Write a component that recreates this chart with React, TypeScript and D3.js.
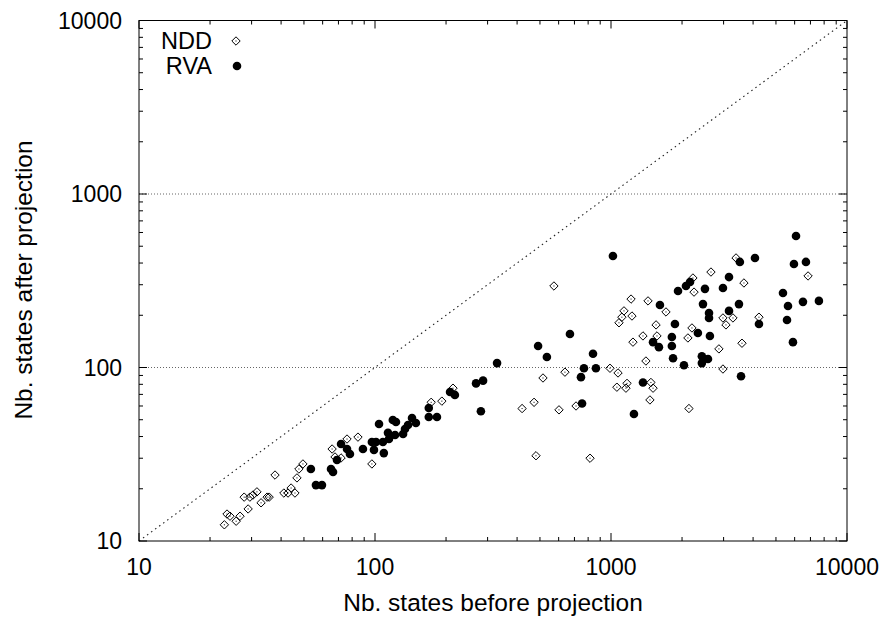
import * as d3 from "d3";

// NDD: [states before, states after]
const nddPoints: [number, number][] = [
  [23, 12.4], [23.6, 14.3], [24.3, 13.9], [25.8, 13.0], [26.8, 13.9], [29, 15.3],
  [27.9, 17.9], [29.5, 17.9], [30.4, 18.4], [31.6, 19.2], [32.9, 16.6], [34.9, 17.9],
  [35.6, 17.9], [37.7, 24], [41.1, 18.9], [42.8, 18.9], [44.1, 20.2], [45.8, 18.9],
  [46.7, 23.1], [47.6, 26], [49.5, 27.8], [65.8, 33.9], [67.7, 30.5], [71.8, 30.1],
  [76.1, 38.7], [84.7, 39.7], [97, 27.8], [173, 63], [192, 64], [214, 76],
  [573, 295], [1216, 248], [1135, 212], [1112, 195], [1227, 198], [1081, 181],
  [1239, 140], [990, 99], [1071, 93], [638, 94], [515, 87], [1059, 77],
  [1169, 81], [1157, 76], [420, 58], [472, 63], [602, 57], [711, 60],
  [481, 31], [815, 30], [1435, 242], [1710, 209], [1552, 176], [1366, 152],
  [1566, 152], [1406, 109], [1476, 82], [1507, 76], [1462, 65], [2139, 58],
  [3387, 428], [2224, 328], [2652, 355], [3658, 307], [2248, 272], [2203, 169],
  [2118, 148], [2981, 193], [3287, 193], [3070, 176], [2866, 128], [3589, 138],
  [4236, 195], [2981, 98], [6839, 337],
];

// RVA: [states before, states after]
const rvaPoints: [number, number][] = [
  [53.5, 26], [56.2, 21], [59.6, 21], [65.1, 26], [66.4, 25], [69, 29.3],
  [71.8, 36.2], [76.1, 33.9], [78.3, 31.7], [88.9, 33.9], [97, 37.2], [101, 37.2],
  [99, 33.5], [104, 47.2], [109, 32.1], [108, 37.2], [113.5, 42], [114.6, 38.7],
  [121.6, 40.8], [119, 49.8], [122.7, 48.5], [131.5, 41.4], [134, 44.2], [138, 46.6],
  [143.5, 51.2], [149, 47.9], [169, 58.4], [169, 51.8], [183, 51.8], [208, 72.2],
  [218, 69.5], [670, 156], [491, 133], [535, 115], [839, 120], [329, 106],
  [768, 99], [863, 99], [746, 88], [268, 81], [287, 84], [281, 56],
  [754, 62], [1251, 54], [1019, 439], [6081, 573], [4074, 428], [3516, 406],
  [5959, 395], [6699, 406], [3162, 332], [2078, 295], [2162, 311], [1923, 276],
  [2501, 284], [2981, 287], [1612, 229], [2453, 232], [3485, 232], [3162, 212],
  [2602, 206], [2602, 193], [1866, 178], [5354, 269], [5623, 226], [6507, 239],
  [7603, 242], [5569, 188], [4236, 178], [2334, 158], [1811, 150], [2625, 152],
  [1507, 140], [1596, 131], [1811, 133], [1832, 113], [2427, 116], [2427, 106],
  [2576, 112], [2038, 103], [5902, 140], [3556, 89], [1366, 82],
];

const majorTicks = [10, 100, 1000, 10000];
const gridTicks = [100, 1000];
const legendItems = ["NDD", "RVA"];

const W = 884;
const H = 621;
const left = 139;
const right = 847;
const top = 20.5;
const bottom = 541;
const font = "'Liberation Sans', Arial, Helvetica, sans-serif";

export default function App() {
  const x = d3.scaleLog().domain([10, 10000]).range([left, right]);
  const y = d3.scaleLog().domain([10, 10000]).range([bottom, top]);

  const minor: number[] = [];
  majorTicks.slice(0, -1).forEach((m) => {
    for (let k = 2; k <= 9; k++) minor.push(m * k);
  });

  const diamond = (cx: number, cy: number, s = 4.2) =>
    `M${cx},${cy - s}L${cx + s},${cy}L${cx},${cy + s}L${cx - s},${cy}Z`;

  return (
    <div style={{ position: "absolute", left: 0, top: 0 }}>
      <svg width={W} height={H} style={{ display: "block", background: "#fff" }}>
        {/* grid */}
        {gridTicks.map((t) => (
          <line key={t} x1={left} x2={right} y1={y(t)} y2={y(t)}
            stroke="#666" strokeWidth={1} strokeDasharray="1,2" />
        ))}
        <line x1={x(10)} y1={y(10)} x2={x(10000)} y2={y(10000)}
          stroke="#222" strokeWidth={1.1} strokeDasharray="1.5,3.5" />

        {/* ticks */}
        {majorTicks.map((t) => (
          <g key={"M" + t} stroke="#000" strokeWidth={1}>
            <line x1={x(t)} x2={x(t)} y1={bottom} y2={bottom - 8} />
            <line x1={x(t)} x2={x(t)} y1={top} y2={top + 8} />
            <line y1={y(t)} y2={y(t)} x1={left} x2={left + 8} />
            <line y1={y(t)} y2={y(t)} x1={right} x2={right - 8} />
          </g>
        ))}
        {minor.map((t) => (
          <g key={"m" + t} stroke="#000" strokeWidth={1}>
            <line x1={x(t)} x2={x(t)} y1={bottom} y2={bottom - 4} />
            <line x1={x(t)} x2={x(t)} y1={top} y2={top + 4} />
            <line y1={y(t)} y2={y(t)} x1={left} x2={left + 4} />
            <line y1={y(t)} y2={y(t)} x1={right} x2={right - 4} />
          </g>
        ))}

        {/* tick labels */}
        {majorTicks.map((t) => (
          <text key={"xl" + t} x={x(t)} y={574.5} textAnchor="middle"
            fontFamily={font} fontSize={23}>{t}</text>
        ))}
        {majorTicks.map((t) => (
          <text key={"yl" + t} x={122} y={y(t) + 8} textAnchor="end"
            fontFamily={font} fontSize={23}>{t}</text>
        ))}

        {/* axis titles */}
        <text x={(left + right) / 2} y={611} textAnchor="middle" fontFamily={font} fontSize={24.5}>
          Nb. states before projection
        </text>
        <text transform={`translate(32,280) rotate(-90)`} textAnchor="middle" fontFamily={font} fontSize={24.5}>
          Nb. states after projection
        </text>

        {/* NDD points */}
        {nddPoints.map(([a, b], i) => (
          <g key={"n" + i}>
            <path d={diamond(x(a), y(b))} fill="none" stroke="#000" strokeWidth={1} />
            <rect x={x(a) - 0.5} y={y(b) - 0.5} width={1} height={1} fill="#000" />
          </g>
        ))}
        {/* RVA points */}
        {rvaPoints.map(([a, b], i) => (
          <circle key={"r" + i} cx={x(a)} cy={y(b)} r={4.3} fill="#000" />
        ))}

        {/* frame */}
        <rect x={left} y={top} width={right - left} height={bottom - top}
          fill="none" stroke="#000" strokeWidth={1} />

        {/* legend */}
        {legendItems.map((name, i) => (
          <g key={name}>
            <text x={212} y={48.5 + i * 25} textAnchor="end" fontFamily={font} fontSize={23.5}>{name}</text>
            {i === 0 ? (
              <g>
                <path d={diamond(236, 41)} fill="none" stroke="#000" strokeWidth={1} />
                <rect x={235.5} y={40.5} width={1} height={1} fill="#000" />
              </g>
            ) : (
              <circle cx={237} cy={66} r={4.3} fill="#000" />
            )}
          </g>
        ))}
      </svg>
    </div>
  );
}
